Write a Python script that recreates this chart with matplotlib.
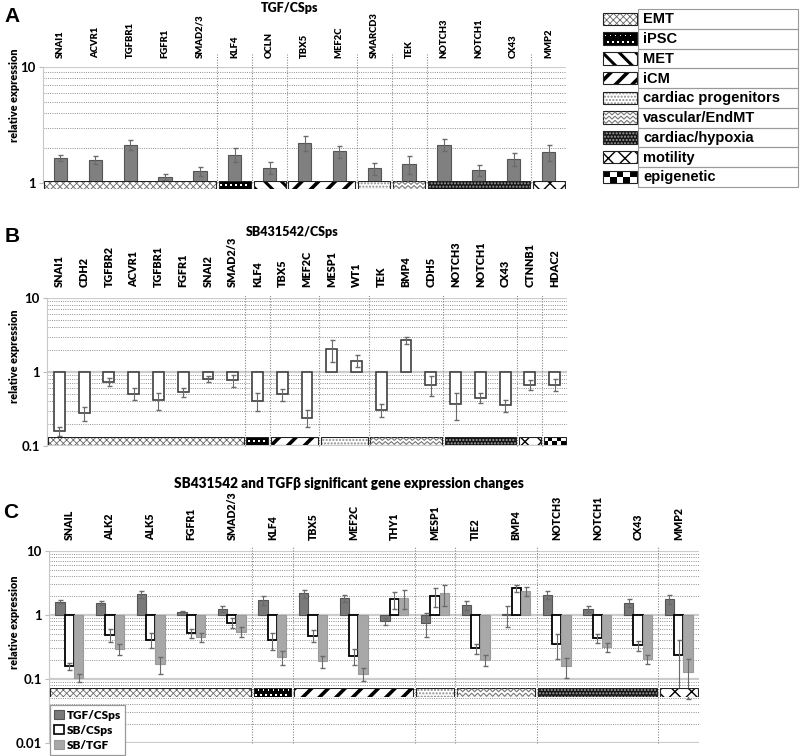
import numpy as np
import matplotlib
matplotlib.use('Agg')
import matplotlib.pyplot as plt
import matplotlib.transforms as mtransforms
from matplotlib.patches import Rectangle, Patch
from matplotlib.ticker import LogLocator, NullFormatter

# ---- data ----
genes_a = ['SNAI1', 'ACVR1', 'TGFBR1', 'FGFR1', 'SMAD2/3', 'KLF4', 'OCLN', 'TBX5',
           'MEF2C', 'SMARCD3', 'TEK', 'NOTCH3', 'NOTCH1', 'CX43', 'MMP2']
tgf_a = [1.64, 1.58, 2.14, 1.13, 1.26, 1.75, 1.36, 2.23, 1.87, 1.34, 1.46, 2.14, 1.30, 1.61, 1.84]
err_a = [0.09, 0.13, 0.23, 0.07, 0.11, 0.24, 0.16, 0.33, 0.23, 0.16, 0.26, 0.27, 0.14, 0.20, 0.30]
groups_a = [('EMT', 5), ('iPSC', 1), ('MET', 1), ('iCM', 2), ('cardiac progenitors', 1),
            ('vascular/EndMT', 1), ('cardiac/hypoxia', 3), ('motility', 1)]

genes_b = ['SNAI1', 'CDH2', 'TGFBR2', 'ACVR1', 'TGFBR1', 'FGFR1', 'SNAI2', 'SMAD2/3', 'KLF4',
           'TBX5', 'MEF2C', 'MESP1', 'WT1', 'TEK', 'BMP4', 'CDH5', 'NOTCH3', 'NOTCH1', 'CX43',
           'CTNNB1', 'HDAC2']
sb_b = [0.16, 0.277, 0.727, 0.51, 0.417, 0.54, 0.806, 0.773, 0.409, 0.497, 0.242, 2.03, 1.42,
        0.306, 2.71, 0.677, 0.373, 0.449, 0.354, 0.677, 0.677]
err_b = [0.022, 0.06, 0.09, 0.09, 0.11, 0.075, 0.08, 0.14, 0.11, 0.09, 0.064, 0.66, 0.26,
         0.058, 0.30, 0.20, 0.15, 0.07, 0.07, 0.11, 0.12]
groups_b = [('EMT', 8), ('iPSC', 1), ('iCM', 2), ('cardiac progenitors', 2), ('vascular/EndMT', 3),
            ('cardiac/hypoxia', 3), ('motility', 1), ('epigenetic', 1)]

genes_c = ['SNAIL', 'ALK2', 'ALK5', 'FGFR1', 'SMAD2/3', 'KLF4', 'TBX5', 'MEF2C', 'THY1',
           'MESP1', 'TIE2', 'BMP4', 'NOTCH3', 'NOTCH1', 'CX43', 'MMP2']
tgf_c = [1.61, 1.54, 2.12, 1.10, 1.24, 1.71, 2.17, 1.82, 0.80, 0.76, 1.43, 1.02, 2.07, 1.25, 1.55, 1.77]
tgf_c_err = [0.08, 0.10, 0.25, 0.05, 0.14, 0.27, 0.30, 0.25, 0.09, 0.30, 0.23, 0.37, 0.29, 0.14, 0.23, 0.26]
sb_c = [0.159, 0.495, 0.41, 0.519, 0.76, 0.40, 0.477, 0.23, 1.77, 2.0, 0.30, 2.6, 0.354, 0.44, 0.338, 0.233]
sb_c_err = [0.02, 0.11, 0.11, 0.08, 0.13, 0.12, 0.10, 0.064, 0.54, 0.65, 0.053, 0.34, 0.145, 0.07, 0.06, 0.177]
sbtgf_c = [0.104, 0.292, 0.169, 0.45, 0.55, 0.22, 0.19, 0.121, 1.86, 2.17, 0.195, 2.36, 0.159, 0.314, 0.207, 0.128]
sbtgf_c_err = [0.014, 0.056, 0.049, 0.072, 0.095, 0.053, 0.041, 0.028, 0.60, 0.78, 0.038, 0.38, 0.056, 0.05, 0.033, 0.079]
groups_c = [('EMT', 5), ('iPSC', 1), ('iCM', 3), ('cardiac progenitors', 1), ('vascular/EndMT', 2),
            ('cardiac/hypoxia', 3), ('motility', 1)]

legend_names = ['EMT', 'iPSC', 'MET', 'iCM', 'cardiac progenitors', 'vascular/EndMT',
                'cardiac/hypoxia', 'motility', 'epigenetic']
series_c = ['TGF/CSps', 'SB/CSps', 'SB/TGF']

# hatch look of each category
PATTERNS = {
    'EMT': ('white', 'xxxxx', '#6a6a6a', 0.6),
    'MET': ('white', '\\\\', 'black', 2.2),
    'iCM': ('white', '//', 'black', 2.6),
    'cardiac progenitors': ('white', '.....', '#8c8c8c', 1.0),
    'cardiac/hypoxia': ('#151515', '.....', '#a0a0a0', 1.0),
    'motility': ('white', 'xx', 'black', 1.0),
}

W, H = 800, 756
CAL = 'Lato'
ARIAL = 'Liberation Sans'
plt.rcParams['hatch.linewidth'] = 1.0


def fig_rect(x0, y0, x1, y1):
    return [x0 / W, 1 - y1 / H, (x1 - x0) / W, (y1 - y0) / H]


def pattern_box(ax, x0, y0, w, h, name, sx, sy):
    # sx, sy = pixels per data unit
    if name == 'epigenetic':
        ax.add_patch(Rectangle((x0, y0), w, h, facecolor='white', edgecolor='none'))
        side = abs(h * sy) / 2
        ncol = max(2, int(round(abs(w * sx) / side)))
        dw = w / ncol
        for i in range(ncol):
            for j in range(2):
                if (i + j) % 2 == 0:
                    ax.add_patch(Rectangle((x0 + i * dw, y0 + j * h / 2), dw, h / 2,
                                           facecolor='black', edgecolor='none'))
    elif name == 'iPSC':
        ax.add_patch(Rectangle((x0, y0), w, h, facecolor='black', edgecolor='none'))
        hp = abs(h * sy)
        nrow = max(1, int(hp // 4.2))
        dot_w = 1.8 / sx
        dot_h = 1.8 / sy
        for r in range(nrow):
            yc = y0 + h * (r + 0.5) / nrow
            shift = 2.5 if r % 2 else 0.0
            xp = 2.5 + shift
            while xp < abs(w * sx) - 1.5:
                ax.add_patch(Rectangle((x0 + xp / sx - dot_w / 2, yc - dot_h / 2), dot_w, dot_h,
                                       facecolor='white', edgecolor='none'))
                xp += 5.0
    elif name == 'vascular/EndMT':
        bg = Rectangle((x0, y0), w, h, facecolor='white', edgecolor='none')
        ax.add_patch(bg)
        p = 6.0 / sx
        xs = np.arange(x0 - p, x0 + w + p, p / 2)
        nrow = max(2, int(round(abs(h * sy) / 4.0)))
        rh = h / nrow
        for r in range(nrow):
            ys = [y0 + r * rh + (0.15 if k % 2 == 0 else 0.85) * rh for k in range(len(xs))]
            ln, = ax.plot(xs, ys, color='#777777', lw=0.8)
            ln.set_clip_path(bg)
    else:
        face, hatch, hc, hlw = PATTERNS[name]
        r = Rectangle((x0, y0), w, h, facecolor=face, edgecolor=hc, hatch=hatch, lw=0)
        if hasattr(r, 'set_hatch_linewidth'):
            r.set_hatch_linewidth(hlw)
        ax.add_patch(r)
    ax.add_patch(Rectangle((x0, y0), w, h, fill=False, edgecolor='#222222', lw=0.8))


def setup_axis(ax, n, ymin, ymax, ticks, labels):
    ax.set_yscale('log')
    ax.set_xlim(-0.5, n - 0.5)
    ax.set_ylim(ymin, ymax)
    ax.set_xticks([])
    ax.set_yticks(ticks)
    ax.set_yticklabels(labels, fontfamily=CAL, fontweight='bold', fontsize=9.5)
    ax.yaxis.set_minor_locator(LogLocator(base=10, subs=range(2, 10)))
    ax.yaxis.set_minor_formatter(NullFormatter())
    ax.tick_params(axis='y', which='minor', length=0)
    ax.tick_params(axis='y', which='major', length=3, color='#bbbbbb', pad=2)
    ax.grid(True, which='major', axis='y', color='#cccccc', lw=1.6)
    ax.grid(True, which='minor', axis='y', color='#8f8f8f', lw=0.7, ls=(0, (1, 1.3)))
    ax.set_axisbelow(True)
    for s in ['top', 'right', 'bottom']:
        ax.spines[s].set_visible(False)
    ax.spines['left'].set_color('#c8c8c8')


def separators(ax, groups, top):
    tr = mtransforms.blended_transform_factory(ax.transData, ax.transAxes)
    pos = np.cumsum([g[1] for g in groups])[:-1]
    for b in pos:
        ax.plot([b - 0.5, b - 0.5], [0, top], transform=tr, color='#8a8a8a', lw=0.8,
                ls=(0, (1, 1.4)), clip_on=False)


def strip(fig, rect_px, n, groups):
    x0p, y0p, x1p, y1p = rect_px
    sax = fig.add_axes(fig_rect(x0p, y0p, x1p, y1p))
    sax.set_xlim(-0.5, n - 0.5)
    sax.set_ylim(0, 1)
    sax.set_axis_off()
    sx = (x1p - x0p) / n
    sy = (y1p - y0p)
    gap = 1.4 / sx
    start = 0
    for name, cnt in groups:
        pattern_box(sax, start - 0.5 + gap, 0, cnt - 2 * gap, 1, name, sx, sy)
        start += cnt


def gene_labels(fig, ax, genes, ypx, size):
    tr = mtransforms.blended_transform_factory(ax.transData, fig.transFigure)
    for i, g in enumerate(genes):
        ax.text(i, 1 - ypx / H, g, transform=tr, rotation=90, ha='center', va='bottom',
                fontfamily=CAL, fontweight='heavy', fontsize=size, clip_on=False)


fig = plt.figure(figsize=(8, 7.56), dpi=100)

# ---- panel A ----
axA = fig.add_axes(fig_rect(43, 67, 566, 183))
setup_axis(axA, len(genes_a), 1, 10, [1, 10], ['1', '10'])
xa = np.arange(len(genes_a))
axA.bar(xa, np.array(tgf_a) - 1, bottom=1, width=0.38, color='#808080', edgecolor='#555555', lw=0.8, zorder=2)
axA.errorbar(xa, tgf_a, yerr=err_a, fmt='none', ecolor='#6a6a6a', elinewidth=0.8, capsize=1.8, zorder=3)
separators(axA, groups_a, 1.11)
gene_labels(fig, axA, genes_a, 58, 6.8)
strip(fig, (43, 181, 566, 189), len(genes_a), groups_a)

# legend of categories
lax = fig.add_axes(fig_rect(600, 0, 800, 190))
lax.set_xlim(600, 800)
lax.set_ylim(190, 0)
lax.set_axis_off()
row_h = 19.75
top = 9.0
for i, name in enumerate(legend_names):
    yc = top + row_h * (i + 0.5)
    lax.add_patch(Rectangle((638, top + row_h * i), 160, row_h, fill=False, edgecolor='#999999', lw=0.8))
    pattern_box(lax, 603, yc - 6.3, 34, 12.6, name, 1.0, 1.0)
    lax.text(643, yc + 0.5, name, ha='left', va='center', fontfamily=ARIAL,
             fontweight='bold', fontsize=10.5)

# ---- panel B ----
axB = fig.add_axes(fig_rect(47, 298, 567, 446))
setup_axis(axB, len(genes_b), 0.1, 10, [0.1, 1, 10], ['0.1', '1', '10'])
xb = np.arange(len(genes_b))
axB.bar(xb, np.array(sb_b) - 1, bottom=1, width=0.44, color='white', edgecolor='#404040', lw=1.2, zorder=2)
axB.errorbar(xb, sb_b, yerr=err_b, fmt='none', ecolor='#6a6a6a', elinewidth=0.8, capsize=1.8, zorder=3)
separators(axB, groups_b, 1.03)
gene_labels(fig, axB, genes_b, 287, 7.8)
strip(fig, (47, 437, 567, 445), len(genes_b), groups_b)

# ---- panel C ----
axC = fig.add_axes(fig_rect(49, 551, 699, 743))
setup_axis(axC, len(genes_c), 0.01, 10, [0.01, 0.1, 1, 10], ['0.01', '0.1', '1', '10'])
xc = np.arange(len(genes_c))
bw = 0.23
axC.bar(xc - bw, np.array(tgf_c) - 1, bottom=1, width=bw, color='#7a7a7a', edgecolor='#555555', lw=0.8, zorder=2)
axC.bar(xc, np.array(sb_c) - 1, bottom=1, width=bw, color='white', edgecolor='black', lw=1.3, zorder=2)
axC.bar(xc + bw, np.array(sbtgf_c) - 1, bottom=1, width=bw, color='#a8a8a8', edgecolor='#9a9a9a', lw=0.8, zorder=2)
for off, v, e in [(-bw, tgf_c, tgf_c_err), (0, sb_c, sb_c_err), (bw, sbtgf_c, sbtgf_c_err)]:
    axC.errorbar(xc + off, v, yerr=e, fmt='none', ecolor='#6a6a6a', elinewidth=0.8, capsize=1.8, zorder=3)
separators(axC, groups_c, 1.02)
gene_labels(fig, axC, genes_c, 540, 7.6)
strip(fig, (49, 688, 699, 697), len(genes_c), groups_c)

handles = [Patch(facecolor='#7a7a7a', edgecolor='#555555', lw=0.8),
           Patch(facecolor='white', edgecolor='black', lw=1.2),
           Patch(facecolor='#a8a8a8', edgecolor='#9a9a9a', lw=0.8)]
leg = fig.legend(handles, series_c, loc='lower left', bbox_to_anchor=(50 / W, 1 / H),
                 prop={'family': CAL, 'weight': 'heavy', 'size': 8.5}, frameon=True,
                 fancybox=False, edgecolor='#999999', framealpha=1, handlelength=0.8,
                 handleheight=0.8, handletextpad=0.3, labelspacing=0.35, borderpad=0.35,
                 borderaxespad=0)
leg.get_frame().set_linewidth(0.9)

# ---- titles and labels ----
fig.text(290 / W, 1 - 8 / H, 'TGF/CSps', ha='center', va='center', fontfamily=CAL, fontweight='heavy', fontsize=9)
fig.text(292 / W, 1 - 232 / H, 'SB431542/CSps', ha='center', va='center', fontfamily=CAL, fontweight='heavy', fontsize=9)
fig.text(349 / W, 1 - 484 / H, 'SB431542 and TGF\u03b2 significant gene expression changes', ha='center',
         va='center', fontfamily=CAL, fontweight='heavy', fontsize=9.8)
for y, txt in [(95, 'relative expression'), (356, 'relative expression'), (622, 'relative expression')]:
    fig.text(15 / W, 1 - y / H, txt, rotation=90, ha='center', va='center', fontfamily=CAL,
             fontweight='heavy', fontsize=7.8)
for x, y, txt in [(12, 17, 'A'), (12, 237, 'B'), (11, 512, 'C')]:
    fig.text(x / W, 1 - y / H, txt, ha='center', va='center', fontfamily=ARIAL, fontweight='bold', fontsize=15)

fig.savefig('out.png', dpi=100)
